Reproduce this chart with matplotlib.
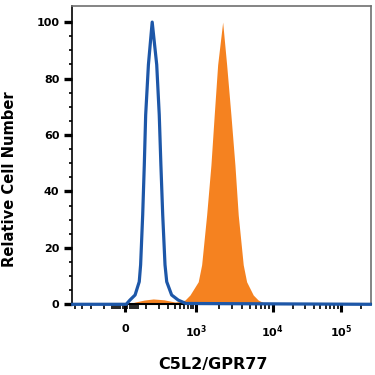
import numpy as np
import matplotlib
matplotlib.use("Agg")
import matplotlib.pyplot as plt
from matplotlib.ticker import FixedLocator, NullFormatter

# histogram outlines (fluorescence, % of max)
iso_x = [-450, 5, 21, 44, 64, 71, 82, 91, 99, 116, 142, 178, 201, 217,
         236, 262, 283, 352, 469, 650, 2.7e5]
iso_y = [0, 0, 1.5, 3.3, 8, 14, 31.7, 49.4, 67.1, 84.9, 100, 84.9, 67.1,
         49.4, 31.7, 14, 8, 3.3, 1.5, 0.3, 0]

c5l2_x = [-450, 10, 44, 90, 150, 250, 407, 505, 626, 775, 1071, 1187, 1380,
          1570, 1733, 1921, 2233, 2517, 2862, 3227, 3563, 4141, 4584, 5590,
          6490, 8000, 2.7e5]
c5l2_y = [0, 0, 0.8, 1.5, 1.9, 1.6, 0.8, 1.0, 1.5, 3.3, 8, 14, 31.7,
          49.4, 67.1, 84.9, 100, 84.9, 67.1, 49.4, 31.7, 14, 8, 3.3,
          1.5, 0.3, 0]

major_x = [0, 1e3, 1e4, 1e5]
major_labels = ["0", r"$\mathbf{10^3}$", r"$\mathbf{10^4}$", r"$\mathbf{10^5}$"]

# display scale (asinh-like, with decade positions taken from the axis)
U = np.arcsinh(np.array(major_x) / 100) / np.log(10)
P = np.array([125, 196, 272.7, 341])
U = np.concatenate([[-10], U, [10]])
P = np.concatenate([[P[0] - 10 * (P[1] - P[0]) / U[2]], P,
                    [P[-1] + (10 - U[-2]) * (P[-1] - P[-2]) / (U[-2] - U[-3])]])


def fwd(x):
    return np.interp(np.arcsinh(np.asarray(x) / 100) / np.log(10), U, P)


def inv(p):
    return 100 * np.sinh(np.interp(np.asarray(p), P, U) * np.log(10))


fig = plt.figure(figsize=(3.75, 3.75), dpi=100)
ax = fig.add_axes([0.192, 0.1885, 0.797, 0.7955])
ax.set_xscale("function", functions=(fwd, inv))

ax.fill_between(c5l2_x, c5l2_y, 0, color="#f58220", lw=0, zorder=2)
ax.plot(iso_x, iso_y, color="#1d57a8", lw=2.3, zorder=3, clip_on=False,
        solid_joinstyle="round")

ax.set_xlim(inv(72), inv(371))
ax.set_ylim(0, 105.7)

minor_x = ([-400, -300, -200, -100, -60, -50, -40, -30, -20, -10]
           + list(range(10, 70, 10)) + list(range(100, 1000, 100))
           + list(range(2000, 10000, 1000)) + list(range(20000, 100000, 10000))
           + [200000])
ax.xaxis.set_major_locator(FixedLocator(major_x))
ax.set_xticklabels(major_labels)
ax.xaxis.set_minor_locator(FixedLocator(minor_x))
ax.xaxis.set_minor_formatter(NullFormatter())

ax.set_yticks([0, 20, 40, 60, 80, 100])
ax.yaxis.set_minor_locator(FixedLocator(np.arange(0, 101, 5)))

ax.tick_params(axis="x", which="major", length=6, width=2.2, pad=8,
               labelsize=8)
ax.tick_params(axis="x", which="minor", length=3.5, width=1.2)
ax.tick_params(axis="y", which="major", length=6, width=2.4, pad=3,
               labelsize=8)
ax.tick_params(axis="y", which="minor", length=2.5, width=1.2)
for lab in ax.get_xticklabels() + ax.get_yticklabels():
    lab.set_fontweight("bold")

ax.spines["left"].set_linewidth(1.2)
ax.spines["bottom"].set_linewidth(1.5)
for s in ("top", "right"):
    ax.spines[s].set_color("#707070")
    ax.spines[s].set_linewidth(1.2)

ax.set_xlabel("C5L2/GPR77", fontsize=11.5, fontweight="bold")
ax.xaxis.set_label_coords(0.473, -0.178)
ax.set_ylabel("Relative Cell Number", fontsize=10.6, fontweight="bold")
ax.yaxis.set_label_coords(-0.185, 0.418)

fig.savefig("out.png", dpi=100)
